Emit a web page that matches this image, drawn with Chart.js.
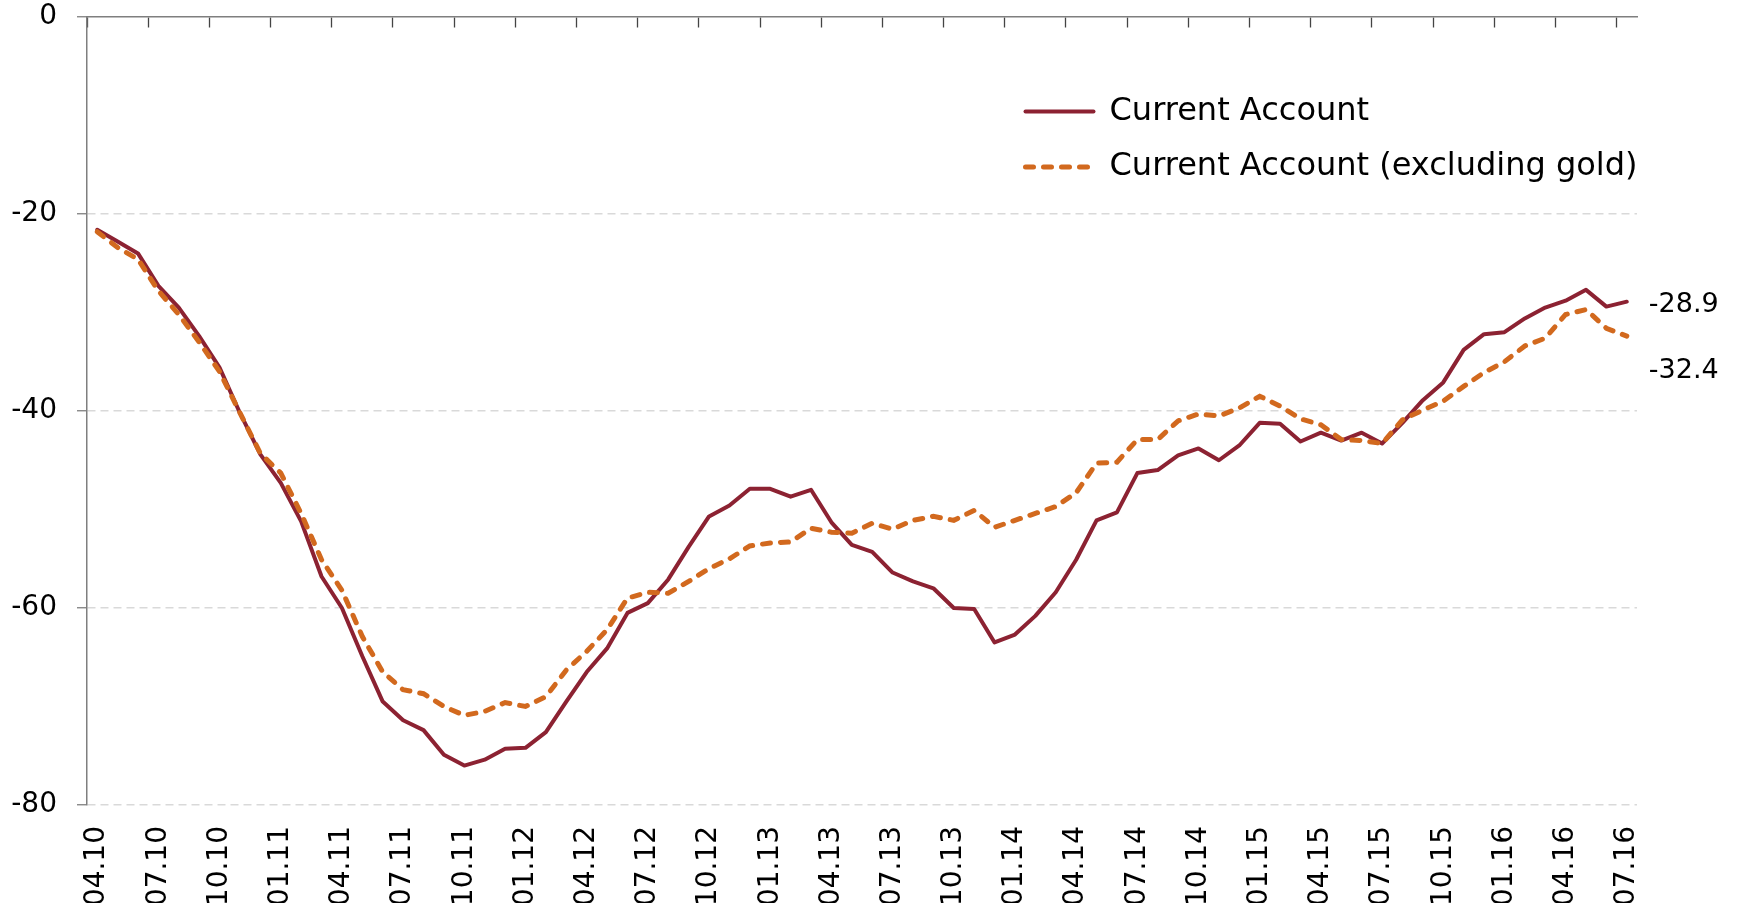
<!DOCTYPE html>
<html><head><meta charset="utf-8">
<script src="https://cdn.jsdelivr.net/npm/chart.js@4.4.1/dist/chart.umd.min.js"></script>
<style>html,body{margin:0;padding:0;background:#fff;}#wrap{width:1741px;height:910px;position:relative;}</style>
</head><body><div id="wrap"><canvas id="c"></canvas></div>
<script>
const months = [
 '04.10','05.10','06.10','07.10','08.10','09.10','10.10','11.10','12.10',
 '01.11','02.11','03.11','04.11','05.11','06.11','07.11','08.11','09.11','10.11','11.11','12.11',
 '01.12','02.12','03.12','04.12','05.12','06.12','07.12','08.12','09.12','10.12','11.12','12.12',
 '01.13','02.13','03.13','04.13','05.13','06.13','07.13','08.13','09.13','10.13','11.13','12.13',
 '01.14','02.14','03.14','04.14','05.14','06.14','07.14','08.14','09.14','10.14','11.14','12.14',
 '01.15','02.15','03.15','04.15','05.15','06.15','07.15','08.15','09.15','10.15','11.15','12.15',
 '01.16','02.16','03.16','04.16','05.16','06.16','07.16'
];
const seriesNames = ['Current Account', 'Current Account (excluding gold)'];
const currentAccount = [
 -21.6,-22.8,-24.0,-27.3,-29.5,-32.4,-35.6,-40.2,-44.4,
 -47.3,-51.2,-56.8,-60.0,-64.9,-69.5,-71.4,-72.4,-74.9,-76.0,-75.4,-74.3,
 -74.2,-72.6,-69.5,-66.5,-64.1,-60.5,-59.5,-57.1,-53.8,-50.7,-49.6,-47.9,
 -47.9,-48.7,-48.0,-51.3,-53.6,-54.3,-56.4,-57.3,-58.0,-60.0,-60.1,-63.5,
 -62.7,-60.8,-58.4,-55.1,-51.1,-50.3,-46.3,-46.0,-44.5,-43.8,-45.0,-43.5,
 -41.2,-41.3,-43.1,-42.2,-43.0,-42.2,-43.3,-41.2,-38.9,-37.1,-33.8,-32.2,
 -32.0,-30.6,-29.5,-28.8,-27.7,-29.4,-28.9
];
const currentAccountExGold = [
 -21.8,-23.4,-24.6,-27.8,-30.2,-33.0,-36.0,-40.2,-44.3,
 -46.3,-50.4,-55.1,-58.2,-62.9,-66.5,-68.3,-68.7,-70.0,-70.9,-70.5,-69.6,
 -70.0,-69.0,-66.3,-64.4,-62.2,-59.0,-58.4,-58.5,-57.3,-56.0,-55.0,-53.7,
 -53.4,-53.3,-51.9,-52.3,-52.4,-51.4,-52.0,-51.1,-50.7,-51.1,-50.1,-51.8,
 -51.1,-50.4,-49.7,-48.3,-45.3,-45.2,-42.9,-42.9,-41.0,-40.3,-40.5,-39.7,
 -38.5,-39.5,-40.8,-41.4,-42.9,-43.0,-43.3,-40.9,-39.9,-39.0,-37.5,-36.1,
 -35.0,-33.4,-32.6,-30.2,-29.7,-31.6,-32.4
];
const yMin = -80, yMax = 0, yStep = 20;
const tickEvery = 3;

Chart.defaults.font.family = "'DejaVu Sans', sans-serif";
Chart.defaults.color = '#000';

const endLabels = {
  id: 'endLabels',
  afterDatasetsDraw(chart) {
    const ctx = chart.ctx;
    ctx.save();
    ctx.font = "27px 'DejaVu Sans'";
    ctx.fillStyle = '#000';
    ctx.textAlign = 'left';
    ctx.textBaseline = 'middle';
    chart.data.datasets.forEach((ds, i) => {
      const meta = chart.getDatasetMeta(i);
      const last = meta.data.length - 1;
      const pt = meta.data[last];
      ctx.fillText(ds.data[last].toFixed(1), pt.x + 22, pt.y + 3 + (i === 1 ? 32 : 0));
    });
    ctx.restore();
  }
};
const legendPlace = {
  id: 'legendPlace',
  afterLayout(chart) {
    const lg = chart.legend;
    lg.left = 1002; lg.top = 72;
  }
};

new Chart(document.getElementById('c'), {
  type: 'line',
  data: {
    labels: months,
    datasets: [
      { label: seriesNames[0], data: currentAccount, borderColor: '#8C2232', backgroundColor: '#8C2232',
        borderWidth: 4, pointRadius: 0, tension: 0, order: 1, borderCapStyle: 'round', borderJoinStyle: 'round' },
      { label: seriesNames[1], data: currentAccountExGold, borderColor: '#D2691E', backgroundColor: '#D2691E',
        borderWidth: 5, borderDash: [8, 10], borderCapStyle: 'round', pointRadius: 0, tension: 0, order: 0 }
    ]
  },
  options: {
    responsive: true, maintainAspectRatio: false, animation: false,
    layout: { padding: { left: 11, top: 17, right: 104, bottom: 7 } },
    plugins: {
      tooltip: { enabled: false },
      legend: {
        position: 'chartArea', align: 'start',
        labels: {
          usePointStyle: true, pointStyle: 'line', pointStyleWidth: 68,
          font: { size: 32 }, color: '#000', padding: 23.5,
          sort: (a, b) => a.datasetIndex - b.datasetIndex,
          generateLabels(chart) {
            const items = Chart.defaults.plugins.legend.labels.generateLabels(chart);
            items.forEach(it => {
              const ds = chart.data.datasets[it.datasetIndex];
              it.lineDash = ds.borderDash || [];
              it.lineWidth = ds.borderWidth;
              it.lineCap = ds.borderCapStyle || 'butt';
              it.strokeStyle = ds.borderColor;
              it.fillStyle = ds.borderColor;
              it.pointStyle = 'line';
            });
            return items;
          }
        }
      }
    },
    scales: {
      x: {
        type: 'category', position: 'bottom', offset: true,
        grid: { display: false, drawTicks: false },
        border: { display: false },
        ticks: {
          autoSkip: false, minRotation: 90, maxRotation: 90, padding: 21,
          font: { size: 28 }, color: '#000',
          callback: function (v, i) { return i % tickEvery === 0 ? this.getLabelForValue(v) : ''; }
        },
        afterFit(scale) { scale.height = 98; scale.paddingLeft = 0; scale.paddingRight = 0; }
      },
      xTop: {
        type: 'category', axis: 'x', position: { y: 0 }, offset: true,
        grid: {
          offset: true, drawOnChartArea: false, drawTicks: true, tickLength: 10,
          tickColor: (c) => (c.index % tickEvery === 0 && c.index < months.length) ? '#444' : 'rgba(0,0,0,0)',
          color: 'rgba(0,0,0,0)', tickWidth: 1.3
        },
        border: { display: true, color: '#7f7f7f', width: 1.5 },
        ticks: { display: false, autoSkip: false },
        afterFit(scale) { scale.paddingLeft = 0; scale.paddingRight = 0; }
      },
      y: {
        min: yMin, max: yMax,
        ticks: { stepSize: yStep, padding: 20, font: { size: 28 }, color: '#000' },
        grid: {
          color: (c) => c.tick.value === 0 ? 'rgba(0,0,0,0)' : '#d9d9d9',
          lineWidth: 1.5, drawTicks: true, tickLength: 10, tickColor: '#7f7f7f',
          tickBorderDash: [], tickWidth: 1.3
        },
        border: { display: true, color: '#7f7f7f', width: 1.5, dash: [8, 5] },
        afterFit(scale) { scale.width = 76; scale.paddingTop = 0; scale.paddingBottom = 0; }
      }
    }
  },
  plugins: [endLabels, legendPlace]
});
</script></body></html>
